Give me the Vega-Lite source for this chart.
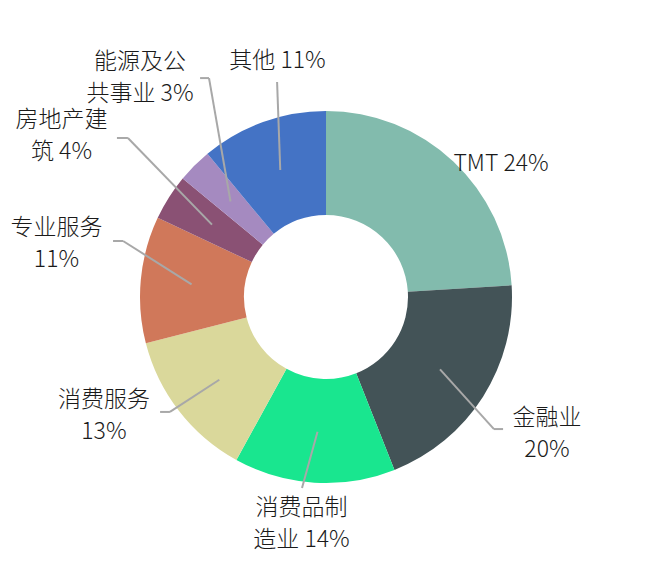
{
  "$schema": "https://vega.github.io/schema/vega-lite/v6.json",
  "width": 650,
  "height": 569,
  "autosize": {"type": "none"},
  "padding": 0,
  "background": "white",
  "config": {"view": {"stroke": null}},
  "datasets": {
    "sectors": [
      {"sector": "TMT", "share": 24},
      {"sector": "金融业", "share": 20},
      {"sector": "消费品制造业", "share": 14},
      {"sector": "消费服务", "share": 13},
      {"sector": "专业服务", "share": 11},
      {"sector": "房地产建筑", "share": 4},
      {"sector": "能源及公共事业", "share": 3},
      {"sector": "其他", "share": 11}
    ],
    "labelLayout": [
      {"sector": "TMT", "wrap": false, "labelX": 0.941, "labelY": 0.715},
      {"sector": "金融业", "wrap": true, "labelX": 1.188, "labelY": -0.651, "kneeX": 0.903, "kneeY": -0.71, "tipX": 0.952, "tipY": -0.71},
      {"sector": "消费品制造业", "wrap": true, "labelX": -0.132, "labelY": -1.134, "kneeX": -0.129, "kneeY": -1.027},
      {"sector": "消费服务", "wrap": true, "labelX": -1.194, "labelY": -0.554, "kneeX": -0.839, "kneeY": -0.618, "tipX": -0.892, "tipY": -0.618},
      {"sector": "专业服务", "wrap": true, "labelX": -1.449, "labelY": 0.371, "kneeX": -1.091, "kneeY": 0.301, "tipX": -1.145, "tipY": 0.301},
      {"sector": "房地产建筑", "wrap": true, "labelX": -1.422, "labelY": 0.952, "kneeX": -1.065, "kneeY": 0.855, "tipX": -1.124, "tipY": 0.855},
      {"sector": "能源及公共事业", "wrap": true, "labelX": -1.0, "labelY": 1.263, "kneeX": -0.629, "kneeY": 1.177, "tipX": -0.677, "tipY": 1.177},
      {"sector": "其他", "wrap": false, "labelX": -0.261, "labelY": 1.269, "kneeX": -0.263, "kneeY": 1.156}
    ]
  },
  "data": {"name": "sectors"},
  "transform": [
    {"window": [{"op": "row_number", "as": "rank"}, {"op": "sum", "field": "share", "as": "cum"}], "frame": [null, 0]},
    {"joinaggregate": [{"op": "sum", "field": "share", "as": "total"}]},
    {"calculate": "2 * PI * (datum.cum - datum.share / 2) / datum.total", "as": "mid"},
    {"calculate": "0.726 * sin(datum.mid)", "as": "anchorX"},
    {"calculate": "0.726 * cos(datum.mid)", "as": "anchorY"},
    {"lookup": "sector", "from": {"data": {"name": "labelLayout"}, "key": "sector", "fields": ["wrap", "labelX", "labelY", "kneeX", "kneeY", "tipX", "tipY"]}},
    {"calculate": "datum.sector + ' ' + datum.share + '%'", "as": "text"},
    {"calculate": "datum.wrap ? [substring(datum.text, 0, 4), trim(substring(datum.text, 4))] : datum.text", "as": "label"}
  ],
  "layer": [
    {
      "mark": {"type": "arc", "innerRadius": 82, "outerRadius": 186},
      "encoding": {
        "x": {"datum": 0, "type": "quantitative", "scale": {"domain": [-1.7527, 1.7419], "nice": false, "zero": false}, "axis": null},
        "y": {"datum": 0, "type": "quantitative", "scale": {"domain": [-1.4624, 1.5968], "nice": false, "zero": false}, "axis": null},
        "theta": {"field": "share", "type": "quantitative", "stack": true},
        "order": {"field": "rank", "type": "quantitative"},
        "color": {
          "field": "sector",
          "type": "nominal",
          "scale": {
            "domain": ["TMT", "金融业", "消费品制造业", "消费服务", "专业服务", "房地产建筑", "能源及公共事业", "其他"],
            "range": ["#82bbad", "#435357", "#19e68f", "#dad89b", "#d0785a", "#8a5174", "#a58ac0", "#4473c5"]
          },
          "legend": null
        }
      }
    },
    {
      "transform": [{"filter": "isValid(datum.kneeX)"}],
      "mark": {"type": "rule", "color": "#a8a8a8", "strokeWidth": 2},
      "encoding": {
        "x": {"field": "anchorX", "type": "quantitative", "scale": {"domain": [-1.7527, 1.7419], "nice": false, "zero": false}, "axis": null},
        "y": {"field": "anchorY", "type": "quantitative", "scale": {"domain": [-1.4624, 1.5968], "nice": false, "zero": false}, "axis": null},
        "x2": {"field": "kneeX"},
        "y2": {"field": "kneeY"}
      }
    },
    {
      "transform": [{"filter": "isValid(datum.tipX)"}],
      "mark": {"type": "rule", "color": "#a8a8a8", "strokeWidth": 2},
      "encoding": {
        "x": {"field": "kneeX", "type": "quantitative", "scale": {"domain": [-1.7527, 1.7419], "nice": false, "zero": false}, "axis": null},
        "y": {"field": "kneeY", "type": "quantitative", "scale": {"domain": [-1.4624, 1.5968], "nice": false, "zero": false}, "axis": null},
        "x2": {"field": "tipX"},
        "y2": {"field": "tipY"}
      }
    },
    {
      "mark": {"type": "text", "font": "Noto Sans CJK SC", "fontSize": 23, "fontWeight": 300, "lineHeight": 32, "align": "center", "baseline": "middle", "color": "#1a1a1a"},
      "encoding": {
        "x": {"field": "labelX", "type": "quantitative", "scale": {"domain": [-1.7527, 1.7419], "nice": false, "zero": false}, "axis": null},
        "y": {"field": "labelY", "type": "quantitative", "scale": {"domain": [-1.4624, 1.5968], "nice": false, "zero": false}, "axis": null},
        "text": {"field": "label"}
      }
    }
  ]
}
